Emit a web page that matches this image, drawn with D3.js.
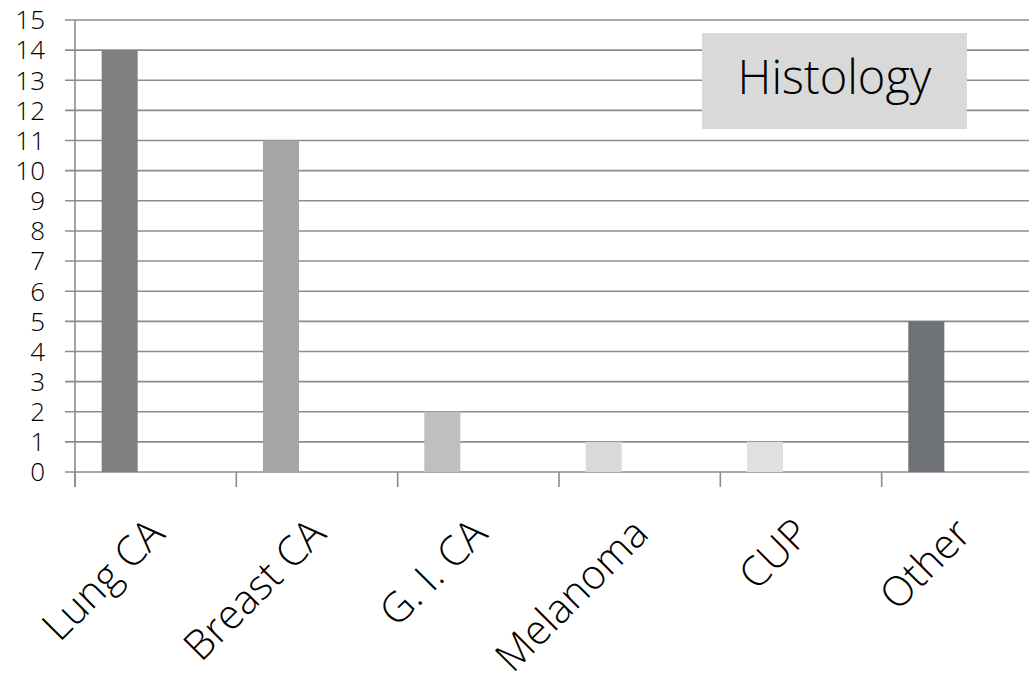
<!DOCTYPE html>
<html>
<head>
<meta charset="utf-8">
<script src="https://cdn.jsdelivr.net/npm/d3@7"></script>
<style>
  html, body { margin: 0; padding: 0; background: #ffffff; }
  svg { display: block; }
  text { font-family: "Open Sans", "Noto Sans", sans-serif; font-weight: 300; fill: #000; }
</style>
</head>
<body>
<svg id="chart" width="1029" height="676"></svg>
<script>
// Histology case counts
const categories = ["Lung CA", "Breast CA", "G. I. CA", "Melanoma", "CUP", "Other"];
const counts = [14, 11, 2, 1, 1, 5];
const barColors = ["#7f7f7f", "#a5a5a5", "#bfbfbf", "#d9d9d9", "#e0e0e0", "#6e7176"];
const yTicks = d3.range(0, 16);
const title = "Histology";

const svg = d3.select("#chart");
const W = 1029, H = 676;
const plot = { left: 75, right: 1043, top: 20, bottom: 472 };
const gridColor = "#8c8c8c";

// category bands; each band holds three slots, the bar sits in the first
const x0 = d3.scaleBand().domain(categories).range([plot.left, plot.right]).padding(0);
const x1 = d3.scaleBand().domain(["s0", "s1", "s2"]).range([0, x0.bandwidth()])
  .paddingInner(0).paddingOuter(0.74);
const y = d3.scaleLinear().domain([0, 15]).range([plot.bottom, plot.top]);

// horizontal gridlines (extend left of the axis as tick marks)
svg.append("g").selectAll("line").data(yTicks).join("line")
  .attr("x1", plot.left - 10).attr("x2", W)
  .attr("y1", d => y(d)).attr("y2", d => y(d))
  .attr("stroke", gridColor).attr("stroke-width", 1.6);

// y tick labels
svg.append("g").selectAll("text").data(yTicks).join("text")
  .attr("x", 45).attr("y", d => y(d))
  .attr("dy", "0.36em")
  .attr("text-anchor", "end")
  .attr("font-size", 26)
  .text(d => d);

// vertical axis line
svg.append("line")
  .attr("x1", plot.left).attr("x2", plot.left)
  .attr("y1", y(15)).attr("y2", plot.bottom + 15)
  .attr("stroke", gridColor).attr("stroke-width", 1.6);

// category boundary ticks below the axis
const boundaries = categories.map(c => x0(c)).concat([plot.right]);
svg.append("g").selectAll("line").data(boundaries).join("line")
  .attr("x1", d => d).attr("x2", d => d)
  .attr("y1", plot.bottom).attr("y2", plot.bottom + 15)
  .attr("stroke", gridColor).attr("stroke-width", 1.6);

// bars
svg.append("g").selectAll("rect").data(categories).join("rect")
  .attr("x", (c) => x0(c) + x1("s0"))
  .attr("width", x1.bandwidth())
  .attr("y", (c, i) => y(counts[i]))
  .attr("height", (c, i) => y(0) - y(counts[i]))
  .attr("fill", (c, i) => barColors[i]);

// rotated category labels
svg.append("g").selectAll("text").data(categories).join("text")
  .attr("transform", c => `translate(${x0(c) + x0.bandwidth() / 2 + 11},${plot.bottom + 64}) rotate(-45)`)
  .attr("text-anchor", "end")
  .attr("font-size", 41)
  .text(c => c);

// title box
const tb = { x: 702, y: 33, w: 265, h: 96 };
svg.append("rect")
  .attr("x", tb.x).attr("y", tb.y).attr("width", tb.w).attr("height", tb.h)
  .attr("fill", "#d9d9d9");
svg.append("text")
  .attr("x", tb.x + tb.w / 2).attr("y", 94)
  .attr("text-anchor", "middle")
  .attr("font-size", 47)
  .text(title);
</script>
</body>
</html>
